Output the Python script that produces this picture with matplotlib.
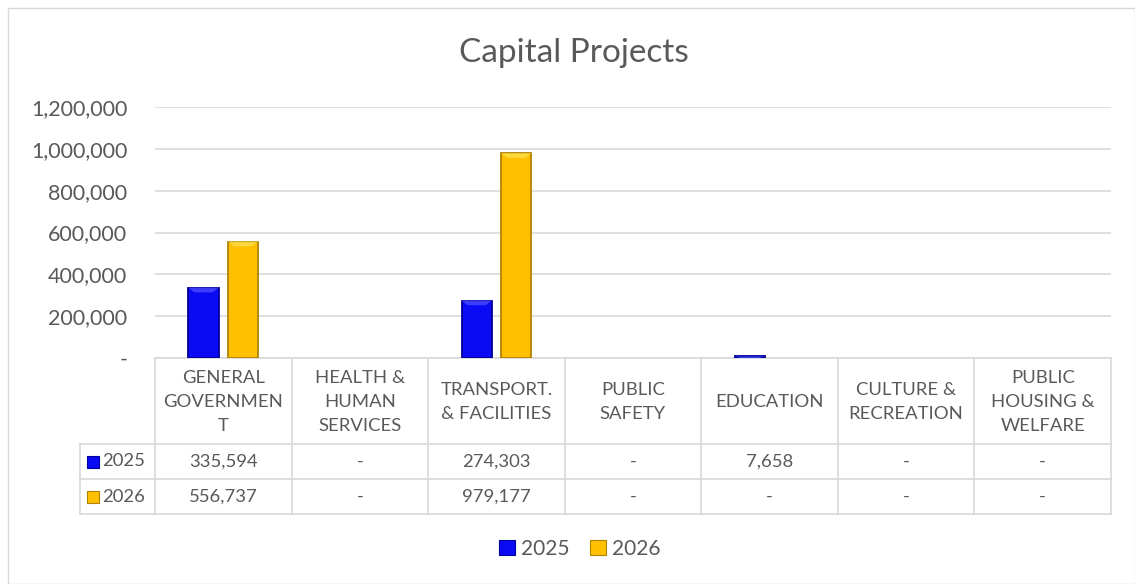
import numpy as np
import matplotlib
matplotlib.use('Agg')
import matplotlib.pyplot as plt
from matplotlib.patches import Rectangle, Patch, Polygon
from matplotlib.transforms import blended_transform_factory

categories = ['GENERAL\nGOVERNMEN\nT', 'HEALTH &\nHUMAN\nSERVICES', 'TRANSPORT.\n& FACILITIES',
              'PUBLIC\nSAFETY', 'EDUCATION', 'CULTURE &\nRECREATION', 'PUBLIC\nHOUSING &\nWELFARE']
series_names = ['2025', '2026']
values_2025 = [335594, 0, 274303, 0, 7658, 0, 0]
values_2026 = [556737, 0, 979177, 0, 0, 0, 0]
yticks = [0, 200000, 400000, 600000, 800000, 1000000, 1200000]

colors = ['#0a0af5', '#ffc000']
edges = ['#00009a', '#b08400']
tops = ['#4a4aff', '#ffe04a']
text_col = '#595959'
grid_col = '#d9d9d9'

plt.rcParams['font.family'] = ['Lato', 'DejaVu Sans']

W, H = 1135, 584
fig = plt.figure(figsize=(W / 100, H / 100), dpi=100)

# overlay in pixel coords for the frame and table
ov = fig.add_axes([0, 0, 1, 1], zorder=0)
ov.set_xlim(0, W)
ov.set_ylim(H, 0)
ov.axis('off')
ov.add_patch(Rectangle((8, 8), W - 8, H - 8, fill=False, ec=grid_col, lw=1))

# main chart
ax = fig.add_axes([155 / W, 1 - 358 / H, (1111 - 155) / W, (358 - 107) / H], zorder=1)
ax.patch.set_alpha(0)
x = np.arange(len(categories))
w = 0.22
for vals, off, c, e, t, name in zip([values_2025, values_2026], [-0.145, 0.145], colors, edges, tops, series_names):
    vals = np.array(vals, dtype=float)
    keep = vals > 0
    bars = ax.bar(x[keep] + off, vals[keep], width=w, color=c, edgecolor=e, linewidth=1.3, label=name, zorder=3)
    # bevel highlight on top of each bar
    for b in bars:
        x0, bw, bh = b.get_x(), b.get_width(), b.get_height()
        d = min(bh, 22000)
        ax.add_patch(Polygon([(x0, bh), (x0 + bw, bh), (x0 + bw * 0.8, bh - d), (x0 + bw * 0.2, bh - d)],
                             closed=True, fc=t, ec='none', zorder=4, alpha=0.8))

ax.set_xlim(-0.5, len(categories) - 0.5)
ax.set_ylim(0, 1200000)
ax.set_yticks(yticks)
ax.set_yticklabels(['-' if v == 0 else f'{v:,}' for v in yticks], fontsize=15.5, color=text_col)
ax.tick_params(axis='y', length=0, pad=20)
ax.set_xticks([])
ax.grid(axis='y', color=grid_col, lw=1.2, zorder=0)
for s in ax.spines.values():
    s.set_visible(False)

# data table under the chart
tr = blended_transform_factory(ax.transData, ov.transData)
n = len(categories)
y_hdr, y_r1, y_r2, y_bot = 358, 444, 479, 514
key_left = 80
lk = dict(color=grid_col, lw=1.2, zorder=2)
ov.plot([155, 1111], [y_hdr, y_hdr], **lk)
for yy in (y_r1, y_r2, y_bot):
    ov.plot([key_left, 1111], [yy, yy], **lk)
ov.plot([key_left, key_left], [y_r1, y_bot], **lk)
for i in range(n + 1):
    ov.plot([i - 0.5, i - 0.5], [y_hdr, y_bot], transform=tr, **lk)

for i, cat in enumerate(categories):
    ov.text(i, (y_hdr + y_r1) / 2 + 1, cat, transform=tr, ha='center', va='center',
            fontsize=13.3, color=text_col, linespacing=1.65)
for row, (vals, yy) in enumerate(zip([values_2025, values_2026], [y_r1, y_r2])):
    yc = yy + 17.5
    for i, v in enumerate(vals):
        ov.text(i, yc, '-' if v == 0 else f'{v:,}', transform=tr, ha='center', va='center',
                fontsize=13.3, color=text_col)
    ov.add_patch(Rectangle((87, yc - 6), 12, 12, fc=colors[row], ec=edges[row], lw=0.8))
    ov.text(102, yc, series_names[row], ha='left', va='center', fontsize=13.3, color=text_col)

fig.text(574 / W, 1 - 53 / H, 'Capital Projects', ha='center', va='center', fontsize=24, color=text_col)

handles = [Patch(fc=c, ec=e, lw=0.8) for c, e in zip(colors, edges)]
fig.legend(handles, series_names, loc='center', bbox_to_anchor=(580 / W, 1 - 549 / H), ncol=2,
           frameon=False, fontsize=15, labelcolor=text_col, handlelength=0.75, handleheight=0.75,
           handletextpad=0.3, columnspacing=1.0)

fig.savefig('out.png', dpi=100)
